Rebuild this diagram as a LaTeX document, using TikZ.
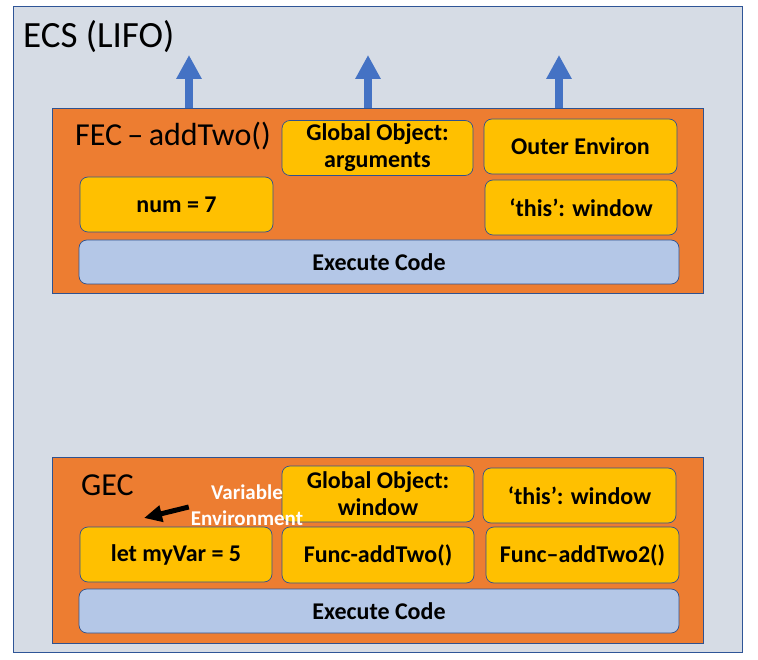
\documentclass[tikz,border=0pt]{standalone}
\usepackage{fontspec}
\setmainfont{Carlito}
\usepackage{tikz}
\usetikzlibrary{arrows.meta}
\usepackage{xcolor}

\definecolor{ecsgray}{HTML}{D6DCE5}
\definecolor{ecsline}{HTML}{2F5597}
\definecolor{ctxorange}{HTML}{ED7D31}
\definecolor{slotgold}{HTML}{FFC000}
\definecolor{execblue}{HTML}{B4C7E7}
\definecolor{pushblue}{HTML}{4472C4}
\definecolor{slotline}{HTML}{2F528F}

\begin{document}
\begin{tikzpicture}[x=1pt, y=-1pt,
    ecsframe/.style={rectangle, draw=ecsline, fill=ecsgray, line width=0.8pt, minimum width=729pt, minimum height=646pt},
    ctxbox/.style={rectangle, draw=slotline, fill=ctxorange, line width=0.8pt, minimum width=651pt, minimum height=185pt},
    slot/.style={rectangle, rounded corners=8pt, draw=slotline, fill=slotgold, line width=0.7pt, minimum width=192pt, minimum height=55pt, align=center, inner sep=0pt, font=\bfseries\fontsize{24}{27}\selectfont},
    execbox/.style={slot, fill=execblue, minimum width=600pt, minimum height=44pt},
    biglabel/.style={anchor=west, inner sep=0pt, font=\fontsize{32}{36}\selectfont},
    pusharrow/.style={-{Triangle[width=24pt,length=24pt]}, draw=pushblue, line width=8pt}]
    \useasboundingbox (0,0) rectangle (758,660);

    % whole stack
    \node[ecsframe] (ecs) at (377.5,329) {};
    \node[biglabel, font=\fontsize{37}{40}\selectfont] (ecstitle) at (23,37) {ECS (LIFO)};

    % FEC on top of the stack
    \node[ctxbox] (fec) at (377.5,200.5) {};
    \node[biglabel] (feclabel) at (75,136) {FEC\,–\,addTwo()};
    \node[slot, minimum width=191pt] (fecargs) at (377.5,148) {Global Object:\\arguments};
    \node[slot, minimum width=193pt] (fecouter) at (580.5,146.5) {Outer Environ};
    \node[slot] (fecthis) at (581,207.5) {‘this’: window};
    \node[slot, minimum width=193pt] (fecnum) at (176.5,204.5) {num = 7};
    \node[execbox] (fecexec) at (379,262) {Execute Code};

    % arrows leaving the FEC
    \coordinate (up1) at (189,55);
    \coordinate (up2) at (368,55);
    \coordinate (up3) at (559,55);
    \draw[pusharrow] (up1 |- fec.north) -- (up1);
    \draw[pusharrow] (up2 |- fec.north) -- (up2);
    \draw[pusharrow] (up3 |- fec.north) -- (up3);

    % GEC at the bottom
    \node[ctxbox, minimum height=186pt] (gec) at (377.5,550) {};
    \node[biglabel] (geclabel) at (81,485) {GEC};
    \node[slot, minimum height=56pt] (gecglobal) at (378,494) {Global Object:\\window};
    \node[slot, minimum width=193pt] (gecthis) at (579.5,495.5) {‘this’: window};
    \node[slot] (gecvar) at (176,554.5) {let myVar = 5};
    \node[slot, minimum height=56pt] (gecfunc) at (378,555) {Func-addTwo()};
    \node[slot, minimum width=193pt, minimum height=56pt] (gecfunctwo) at (582.5,555) {Func–addTwo2()};
    \node[execbox] (gecexec) at (379,611) {Execute Code};

    % variable environment note
    \node[align=center, inner sep=0pt, text=white, font=\bfseries\fontsize{21}{26}\selectfont] (varenv) at (247,505) {Variable\\Environment};
    \coordinate (vartip) at (144,518);
    \draw[-{Triangle[width=16pt,length=18pt]}, line width=5pt] (varenv.west) ++(-2,2) -- (vartip);
\end{tikzpicture}
\end{document}
